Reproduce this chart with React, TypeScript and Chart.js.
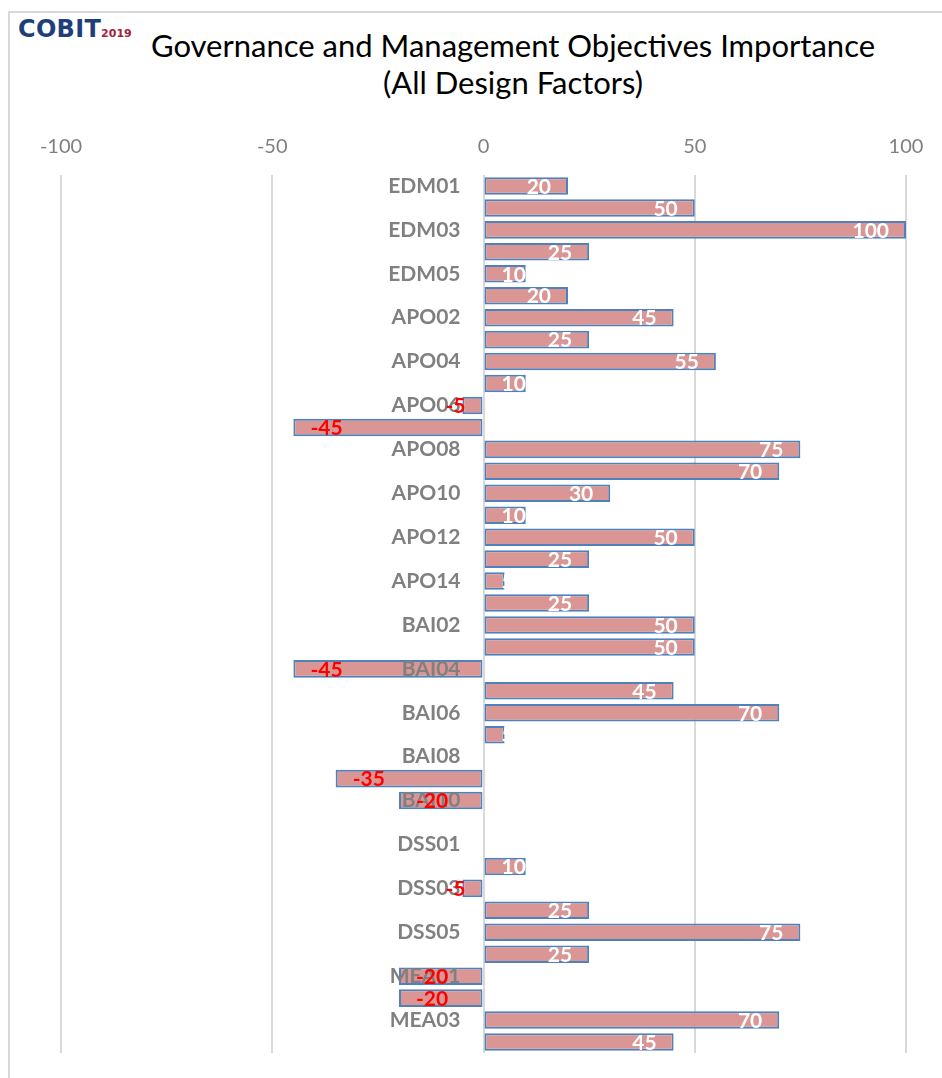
import React, { useEffect, useRef } from "react";
import { Chart, registerables } from "chart.js";

Chart.register(...registerables);

const categories: string[] = [
  "EDM01", "EDM02", "EDM03", "EDM04", "EDM05",
  "APO01", "APO02", "APO03", "APO04", "APO05", "APO06", "APO07", "APO08", "APO09", "APO10", "APO11", "APO12", "APO13", "APO14",
  "BAI01", "BAI02", "BAI03", "BAI04", "BAI05", "BAI06", "BAI07", "BAI08", "BAI09", "BAI10", "BAI11",
  "DSS01", "DSS02", "DSS03", "DSS04", "DSS05", "DSS06",
  "MEA01", "MEA02", "MEA03", "MEA04",
];

const importance: number[] = [
  20, 50, 100, 25, 10,
  20, 45, 25, 55, 10, -5, -45, 75, 70, 30, 10, 50, 25, 5,
  25, 50, 50, -45, 45, 70, 5, 0, -35, -20, 0,
  0, 10, -5, 25, 75, 25,
  -20, -20, 70, 45,
];

const axisMin = -100;
const axisMax = 100;
const axisStep = 50;

const FONT = "Lato, 'Open Sans', sans-serif";

const valueLabelPlugin = {
  id: "valueLabels",
  afterDraw(chart: any) {
    const ctx = chart.ctx;
    const meta = chart.getDatasetMeta(0);
    const data = chart.data.datasets[0].data as number[];
    ctx.save();
    ctx.font = `bold 21px ${FONT}`;
    ctx.textBaseline = "middle";
    ctx.textAlign = "left";
    meta.data.forEach((bar: any, i: number) => {
      const v = data[i];
      if (!v) return;
      const text = String(v);
      const w = ctx.measureText(text).width;
      const pad = 17;
      let left: number;
      if (v > 0) {
        const right = Math.max(bar.x - pad, bar.base + pad + w);
        left = right - w;
        ctx.fillStyle = "#FFFFFF";
      } else {
        left = Math.min(bar.x + pad, bar.base - pad - w);
        ctx.fillStyle = "#FF0000";
      }
      ctx.fillText(text, left, bar.y + 1);
    });
    ctx.restore();
  },
};

export default function App() {
  const canvasRef = useRef<HTMLCanvasElement | null>(null);

  useEffect(() => {
    if (!canvasRef.current) return;
    const chart = new Chart(canvasRef.current, {
      type: "bar",
      data: {
        labels: categories,
        datasets: [
          {
            data: importance,
            backgroundColor: "#D99694",
            borderColor: "#4F81BD",
            borderWidth: 2,
            borderSkipped: false,
            barPercentage: 0.8,
            categoryPercentage: 1,
          },
        ],
      },
      options: {
        indexAxis: "y",
        responsive: false,
        animation: false,
        layout: { padding: { left: 61, right: 36, top: 119, bottom: 25 } },
        plugins: {
          legend: { display: false },
          title: { display: false },
          tooltip: { enabled: false },
        },
        scales: {
          x: {
            position: "top",
            min: axisMin,
            max: axisMax,
            ticks: {
              stepSize: axisStep,
              color: "#808080",
              font: { family: FONT, size: 20 },
              padding: 16,
            },
            grid: { color: "#D9D9D9", lineWidth: 2, drawTicks: false },
            border: { display: false },
          },
          y: {
            position: { x: -5.44 } as any,
            ticks: {
              z: 1,
              autoSkip: false,
              color: "#808080",
              font: { family: FONT, size: 21, weight: "bold" },
              padding: 0,
              callback: (_v: any, i: number) => (i % 2 === 0 ? categories[i] : ""),
            },
            grid: { display: false, drawTicks: false },
            border: { display: false },
          },
        },
      },
      plugins: [valueLabelPlugin],
    });
    return () => chart.destroy();
  }, []);

  return (
    <div
      style={{
        position: "fixed",
        left: 0,
        top: 0,
        width: 942,
        height: 1078,
        overflow: "hidden",
        background: "#FFFFFF",
      }}
    >
      <div
        style={{
          position: "absolute",
          left: 8,
          top: 11,
          width: 1000,
          height: 1100,
          borderLeft: "2px solid #D9D9D9",
          borderTop: "2px solid #D9D9D9",
        }}
      />
      <div
        style={{
          position: "absolute",
          left: 18,
          top: 15,
          fontFamily: "'DejaVu Sans', sans-serif",
          fontWeight: 900,
          whiteSpace: "nowrap",
        }}
      >
        <span style={{ color: "#1F3F7A", fontSize: 24, letterSpacing: 0.3 }}>COBIT</span>
        <span style={{ color: "#A3223A", fontSize: 11, fontWeight: "bold" }}>2019</span>
      </div>
      <div
        style={{
          position: "absolute",
          left: 0,
          width: 1026,
          top: 27,
          textAlign: "center",
          fontFamily: FONT,
          fontSize: 31,
          lineHeight: "37px",
          color: "#000000",
        }}
      >
        Governance and Management Objectives Importance
        <br />
        (All Design Factors)
      </div>
      <canvas
        ref={canvasRef}
        width={942}
        height={1078}
        style={{ position: "absolute", left: 0, top: 0, width: 942, height: 1078 }}
      />
    </div>
  );
}
